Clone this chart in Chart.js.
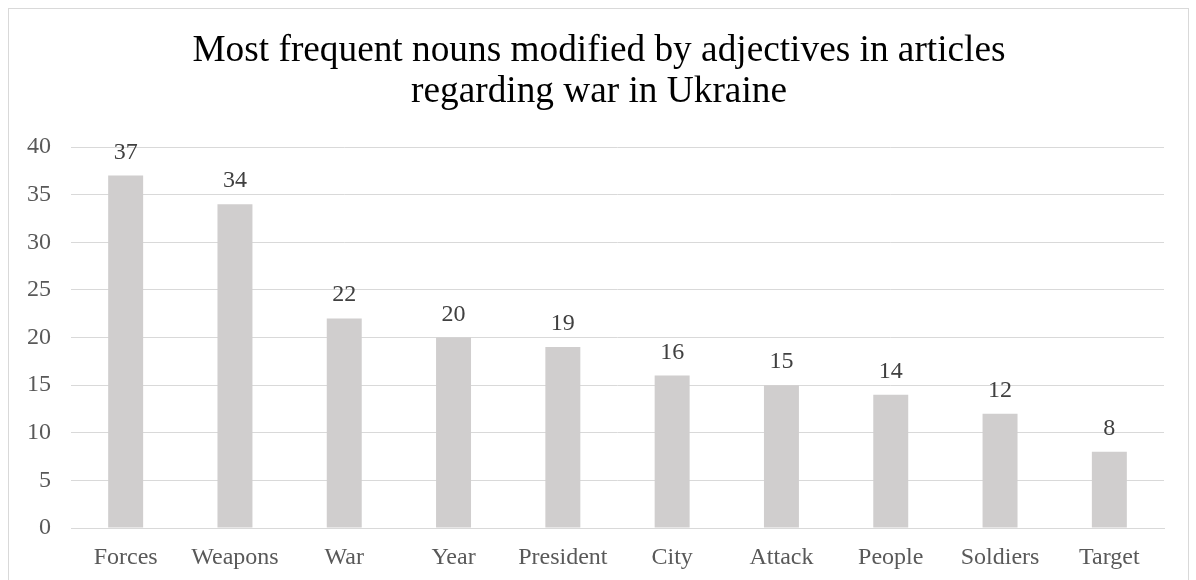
<!DOCTYPE html>
<html>
<head>
<meta charset="utf-8">
<script src="https://cdn.jsdelivr.net/npm/chart.js@4.4.0/dist/chart.umd.min.js"></script>
<style>
  html, body { margin: 0; padding: 0; background: #ffffff; }
  #wrap { width: 1196px; height: 580px; }
</style>
</head>
<body>
<div id="wrap"><canvas id="c" width="1196" height="580"></canvas></div>
<script>
// Noun counts
const nouns = ['Forces', 'Weapons', 'War', 'Year', 'President', 'City', 'Attack', 'People', 'Soldiers', 'Target'];
const counts = [37, 34, 22, 20, 19, 16, 15, 14, 12, 8];
const yTicks = [0, 5, 10, 15, 20, 25, 30, 35, 40];
const titleLines = ['Most frequent nouns modified by adjectives in articles', 'regarding war in Ukraine'];

const SERIF = '"Liberation Serif", "Times New Roman", serif';

// Light frame around the whole chart
const framePlugin = {
  id: 'frame',
  beforeDraw(chart) {
    const ctx = chart.ctx;
    ctx.save();
    ctx.fillStyle = '#ffffff';
    ctx.fillRect(0, 0, chart.width, chart.height);
    ctx.strokeStyle = '#d9d9d9';
    ctx.lineWidth = 1;
    ctx.strokeRect(8.5, 8.5, 1180, 620);
    ctx.restore();
  }
};

// Value labels above each bar
const valueLabels = {
  id: 'valueLabels',
  afterDatasetsDraw(chart) {
    const ctx = chart.ctx;
    const meta = chart.getDatasetMeta(0);
    ctx.save();
    ctx.font = '24px ' + SERIF;
    ctx.fillStyle = '#404040';
    ctx.textAlign = 'center';
    ctx.textBaseline = 'alphabetic';
    meta.data.forEach((bar, i) => {
      ctx.fillText(String(counts[i]), bar.x, bar.y - 17);
    });
    ctx.restore();
  }
};

new Chart(document.getElementById('c'), {
  type: 'bar',
  data: {
    labels: nouns,
    datasets: [{
      data: counts,
      backgroundColor: '#d0cece',
      borderWidth: 0,
      barPercentage: 0.32,
      categoryPercentage: 1.0
    }]
  },
  options: {
    responsive: false,
    animation: false,
    devicePixelRatio: 1,
    layout: { padding: { left: 17, right: 15, top: 0, bottom: 0 } },
    plugins: {
      legend: { display: false },
      tooltip: { enabled: false },
      title: {
        display: true,
        text: titleLines,
        color: '#000000',
        font: { family: SERIF, size: 37.3, weight: 'normal', lineHeight: 41 / 37.3 },
        padding: { top: 30.5, bottom: 34.5 }
      }
    },
    scales: {
      x: {
        grid: { display: false, drawTicks: false },
        border: { display: true, color: '#d9d9d9', width: 1 },
        ticks: {
          color: '#595959',
          font: { family: SERIF, size: 24 },
          padding: 15,
          maxRotation: 0,
          autoSkip: false
        },
        afterFit(scale) { scale.height = 52; }
      },
      y: {
        min: 0,
        max: 40,
        afterBuildTicks(scale) { scale.ticks = yTicks.map(v => ({ value: v })); },
        grid: { color: '#d9d9d9', lineWidth: 1, drawTicks: false },
        border: { display: false },
        ticks: {
          color: '#595959',
          font: { family: SERIF, size: 24 },
          padding: 20
        },
        afterFit(scale) { scale.width = 54; }
      },
      // empty strip on the right side of the plot
      yRight: {
        position: 'right',
        min: 0,
        max: 40,
        grid: { display: false, drawTicks: false },
        border: { display: false },
        ticks: { display: false },
        afterFit(scale) { scale.width = 17; }
      }
    }
  },
  plugins: [framePlugin, valueLabels]
});
</script>
</body>
</html>
